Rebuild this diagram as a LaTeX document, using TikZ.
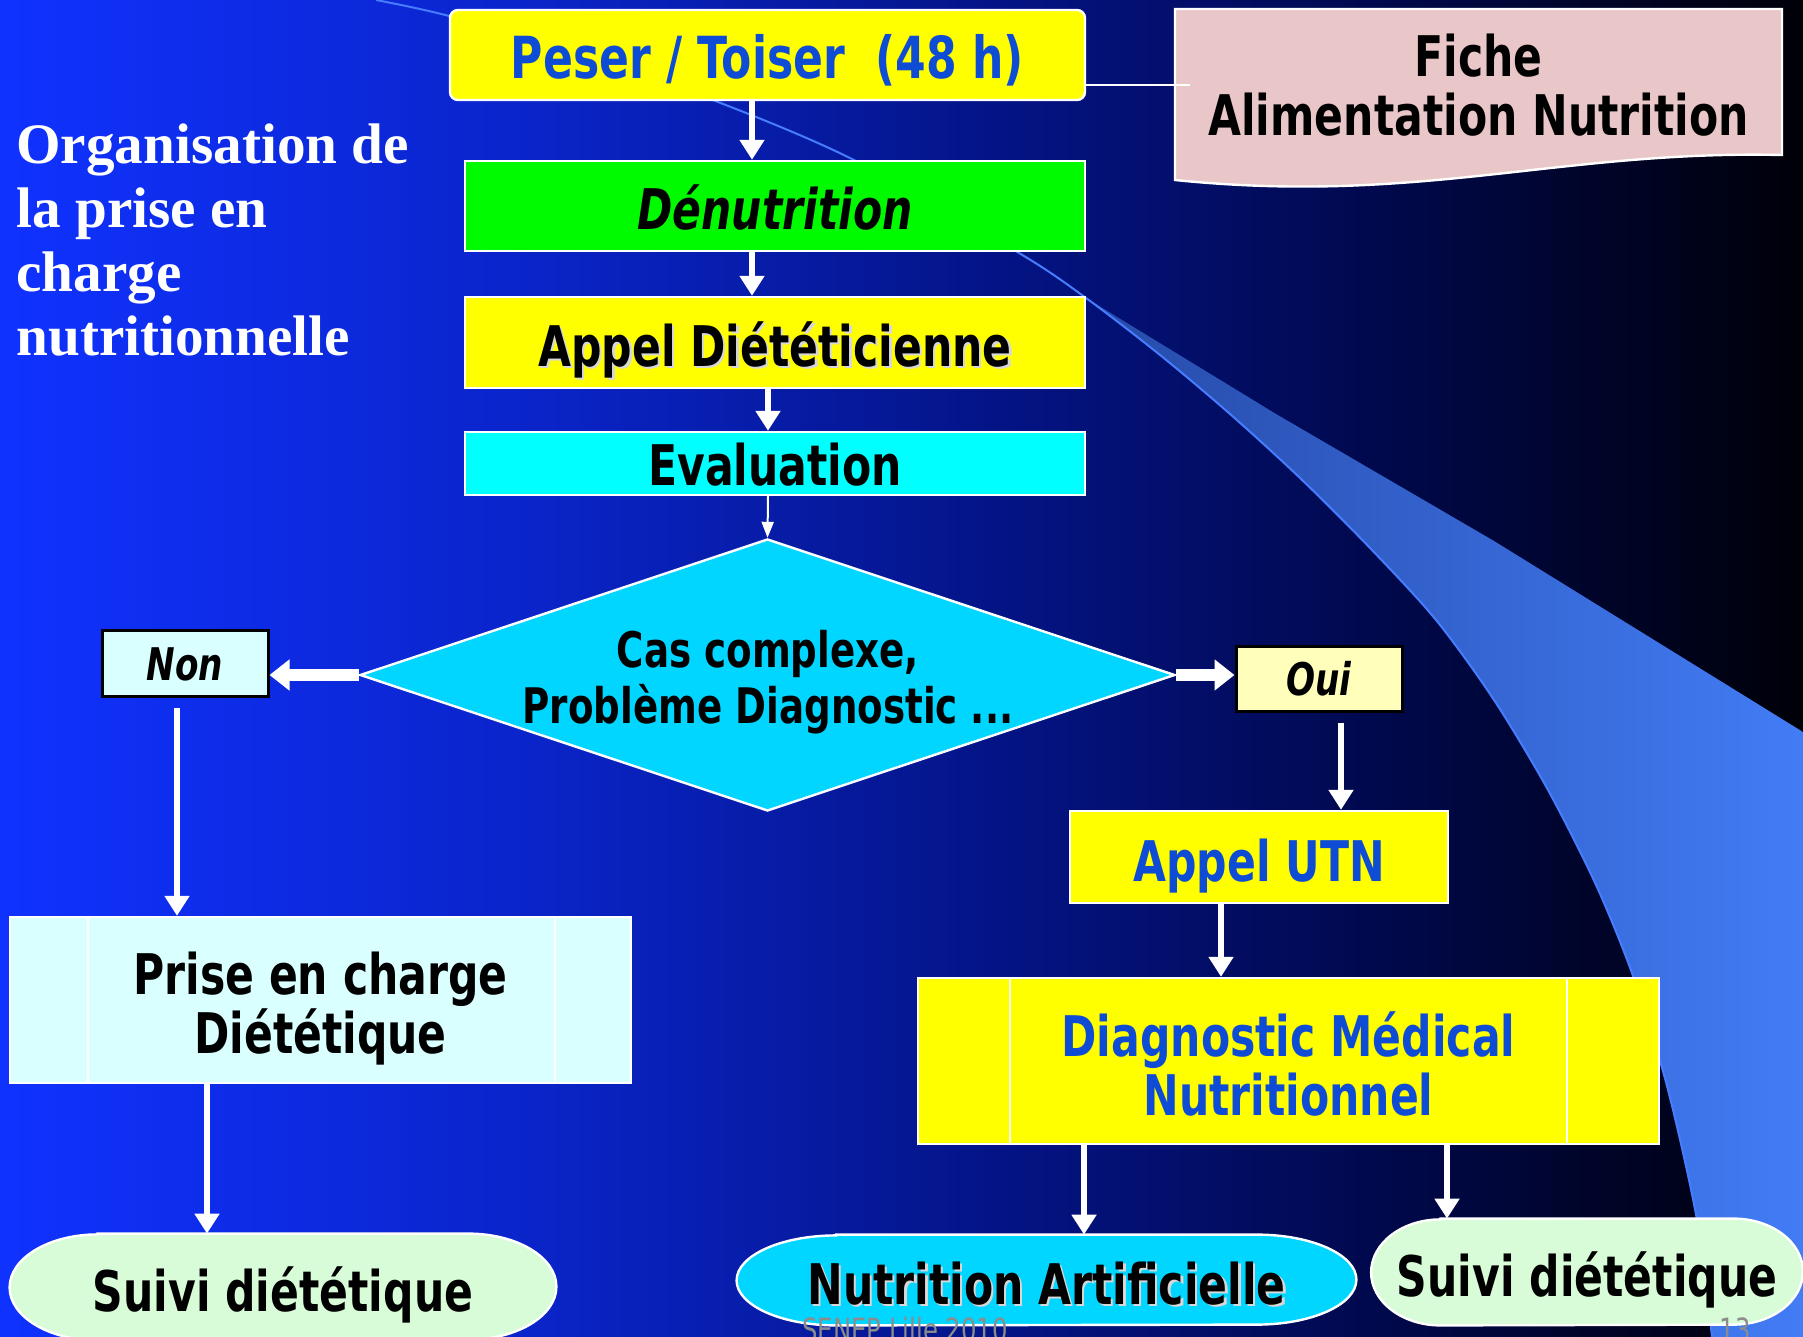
\documentclass[tikz,border=0pt]{standalone}
\usepackage{fontspec}
\setmainfont{DejaVu Sans}[FakeStretch=0.76]
\newfontfamily\titlefont{Liberation Serif}
\usetikzlibrary{arrows.meta,shapes.geometric}

\definecolor{bgA}{RGB}{16,50,255}
\definecolor{bgB}{RGB}{10,36,200}
\definecolor{bgC}{RGB}{4,20,135}
\definecolor{bgD}{RGB}{0,8,72}
\definecolor{bgE}{RGB}{0,0,8}
\definecolor{bandA}{RGB}{38,74,168}
\definecolor{bandB}{RGB}{66,124,245}
\definecolor{swooshline}{RGB}{70,125,255}
\definecolor{boxyellow}{RGB}{255,255,0}
\definecolor{boxgreen}{RGB}{0,250,0}
\definecolor{boxcyan}{RGB}{0,255,255}
\definecolor{boxsky}{RGB}{0,214,255}
\definecolor{paleblue}{RGB}{217,255,255}
\definecolor{paleyellow}{RGB}{255,255,187}
\definecolor{palegreen}{RGB}{216,251,216}
\definecolor{fichepink}{RGB}{233,198,199}
\definecolor{textblue}{RGB}{14,76,214}
\definecolor{footgray}{RGB}{140,140,140}
\definecolor{shadowgray}{RGB}{215,215,215}

\pgfdeclarelayer{backdrop}
\pgfdeclarelayer{shapes}
\pgfsetlayers{backdrop,shapes,main}

% slide background: bright blue on the left fading to black on the right
\pgfdeclarehorizontalshading{slidebg}{100bp}{color(0bp)=(bgA); color(25bp)=(bgA); color(40bp)=(bgB); color(52.5bp)=(bgC); color(64bp)=(bgD); color(75bp)=(bgE); color(100bp)=(bgE)}

\newcommand\fsz[2]{\fontsize{#1pt}{#2pt}\selectfont}
\newcommand\shadowed[1]{\rlap{\kern1.2pt\raisebox{-1.2pt}{\color{shadowgray}#1}}#1}

% terminator outline: node name, end x radius, end y radius, fill colour
\newcommand\terminator[4]{%
  \path[fill=#4, draw=white, line width=1.2pt]
    ([xshift=#2]#1.north west) -- ([xshift=-#2]#1.north east)
    arc[start angle=90, end angle=-90, x radius=#2, y radius=#3]
    -- ([xshift=#2]#1.south west)
    arc[start angle=270, end angle=90, x radius=#2, y radius=#3] -- cycle;}

\tikzset{
  x=0.5pt, y=-0.5pt,
  box/.style={draw=white, line width=1.2pt, inner sep=0pt, align=center,
    font=\bfseries\fsz{28}{29.5}},
  plain/.style={inner sep=0pt, align=center, font=\bfseries\fsz{28}{29.5}},
  oneline/.style={text height=30pt, text depth=6pt},
  small/.style={font=\bfseries\itshape\fsz{22.5}{26}, text height=22pt, text depth=5pt},
  arr/.style={draw=white, line width=3pt, -{Triangle[width=12pt,length=10pt]}},
  thinarr/.style={draw=white, line width=1pt, -{Triangle[width=6pt,length=8pt]}},
  blockarr/.style={draw=white, line width=6pt, -{Triangle[width=15pt,length=10pt]}},
  link/.style={draw=white, line width=1pt},
  swoosh/.style={draw=swooshline, line width=1pt},
}

\begin{document}
\begin{tikzpicture}
\useasboundingbox (0,0) rectangle (1803,1337);

\begin{pgfonlayer}{backdrop}
  \shade[shading=slidebg] (0,0) rectangle (1803,1337);
  \shade[left color=bandA, right color=bandB]
    (1086,298) -- (1276,414) -- (1494,541) -- (1803,732) -- (1803,1337)
    -- plot[smooth] coordinates {(1712,1337) (1697,1220) (1667,1086) (1633,976)
       (1596,885) (1548,790) (1494,700) (1436,620) (1370,548) (1300,478)
       (1230,414) (1160,355) (1086,298)} -- cycle;
  \draw[swoosh] plot[smooth] coordinates {(376,0) (453,17) (590,58) (718,102)
    (854,160) (1019,253) (1086,298) (1160,355) (1230,414) (1300,478) (1370,548)
    (1436,620) (1494,700) (1548,790) (1596,885) (1633,976) (1667,1086)
    (1697,1220) (1712,1337)};
\end{pgfonlayer}

% title
\node[anchor=base west, align=left, inner sep=0pt, text=white,
      font=\titlefont\bfseries\fsz{28.6}{32}] (title) at (16,355)
  {Organisation de\\la prise en\\charge\\nutritionnelle};

% main column
\node[box, oneline, fill=boxyellow, rounded corners=4pt, minimum width=317.5pt,
      minimum height=45pt, text=textblue, font=\bfseries\fsz{29}{31}] (peser) at (767.5,55)
  {Peser / Toiser\ \ (48 h)};
\node[box, oneline, fill=boxgreen, minimum width=310pt, minimum height=45pt,
      font=\bfseries\itshape\fsz{28}{31.5}] (den) at (775,206) {Dénutrition};
\node[box, oneline, fill=boxyellow, minimum width=310pt, minimum height=45.5pt]
  (appel) at (775,342.5) {\shadowed{Appel Diététicienne}};
\node[box, fill=boxcyan, minimum width=310pt, minimum height=31.5pt,
      text height=26pt, text depth=4pt] (eval) at (775,463.5) {Evaluation};
\node[diamond, draw=white, line width=1.2pt, fill=boxsky, inner sep=0pt,
      minimum width=407.5pt, minimum height=136pt] (dia) at (767.5,675) {};
\node[plain, font=\bfseries\fsz{24.5}{28}] (diatext) at (768,682)
  {Cas complexe,\\Problème Diagnostic ...};

% information sheet
\node[minimum width=303.5pt, minimum height=85.5pt, inner sep=0pt]
  (fiche) at (1478.5,94.5) {};
\begin{pgfonlayer}{shapes}
  \path[fill=fichepink, draw=white, line width=1.2pt]
    (1175,9) -- (1782,9) -- (1782,155)
    .. controls (1560,150) and (1420,205) .. (1175,180) -- cycle;
\end{pgfonlayer}
\node[plain] (fichetext) at (1478.5,85) {Fiche\\Alimentation Nutrition};

% branches
\node[box, small, draw=black, line width=1.5pt, fill=paleblue, minimum width=83pt,
      minimum height=33pt] (non) at (185,663) {Non};
\node[box, small, draw=black, line width=1.5pt, fill=paleyellow, minimum width=83pt,
      minimum height=32.5pt] (oui) at (1319,678.5) {Oui};

\node[box, fill=paleblue, minimum width=310.5pt, minimum height=83pt]
  (prise) at (320.5,1000) {};
\node[plain] (prisetext) at (320.5,1008.5) {Prise en charge\\Diététique};
\node[plain, oneline, minimum width=273pt, minimum height=53pt]
  (suivi1) at (283,1287) {Suivi diététique};

\node[box, oneline, fill=boxyellow, minimum width=189pt, minimum height=46pt, text=textblue]
  (utn) at (1259,857) {Appel UTN};
\node[box, fill=boxyellow, minimum width=370.5pt, minimum height=83pt]
  (diag) at (1288.5,1061) {};
\node[plain, text=textblue] (diagtext) at (1288.5,1063.5) {Diagnostic Médical\\Nutritionnel};
\node[plain, oneline, minimum width=309.5pt, minimum height=45pt]
  (nutri) at (1046.5,1280) {\shadowed{Nutrition Artificielle}};
\node[plain, oneline, minimum width=215.5pt, minimum height=53pt]
  (suivi2) at (1587,1272) {Suivi diététique};

\begin{pgfonlayer}{shapes}
  \terminator{suivi1}{44pt}{26.5pt}{palegreen}
  \terminator{nutri}{49.8pt}{22.5pt}{boxsky}
  \terminator{suivi2}{34.7pt}{26.5pt}{palegreen}
\end{pgfonlayer}

% inner bars of the process boxes
\draw[link, line width=1.2pt] ([xshift=39.5pt]prise.north west) -- ([xshift=39.5pt]prise.south west);
\draw[link, line width=1.2pt] ([xshift=-38.5pt]prise.north east) -- ([xshift=-38.5pt]prise.south east);
\draw[link, line width=1.2pt] ([xshift=46.5pt]diag.north west) -- ([xshift=46.5pt]diag.south west);
\draw[link, line width=1.2pt] ([xshift=-46.5pt]diag.north east) -- ([xshift=-46.5pt]diag.south east);

% connectors
\coordinate (pe) at ([yshift=-15pt]peser.east);
\coordinate (fe) at ([xshift=7.5pt]fiche.west);
\draw[link] (pe) -- (fe |- pe);

\draw[arr] ([xshift=-7.75pt]peser.south) -- ([xshift=-11.5pt]den.north);
\draw[arr] ([xshift=-11.5pt]den.south) -- ([xshift=-11.5pt]appel.north);
\draw[arr] ([xshift=-3.5pt]appel.south) -- ([xshift=-3.5pt]eval.north);
\draw[thinarr] ([xshift=-3.5pt]eval.south) -- (dia.north);
\draw[blockarr] (dia.west) -- (dia.west -| non.east);
\draw[blockarr] (dia.east) -- (dia.east -| oui.west);

\coordinate (nb) at ([xshift=-4pt]non.south);
\draw[arr, shorten <=5pt] (nb) -- (nb |- prise.north);
\coordinate (pb) at ([xshift=-56.75pt]prise.south);
\draw[arr] (pb) -- (pb |- suivi1.north);
\coordinate (ob) at ([xshift=11pt]oui.south);
\draw[arr, shorten <=5pt] (ob) -- (ob |- utn.north);
\coordinate (ub) at ([xshift=-19pt]utn.south);
\draw[arr] (ub) -- (ub |- diag.north);
\coordinate (db1) at ([xshift=-102.25pt]diag.south);
\draw[arr] (db1) -- (db1 |- nutri.north);
\coordinate (db2) at ([xshift=79.25pt]diag.south);
\draw[arr] (db2) -- (db2 |- suivi2.north);

% footer
\node[anchor=base, inner sep=0pt, text=footgray, font=\fsz{16}{18}] (foot) at (905,1341) {SENEP Lille 2010};
\node[anchor=base, inner sep=0pt, text=footgray, font=\fsz{16}{18}] (page) at (1735,1341) {13};
\end{tikzpicture}
\end{document}
